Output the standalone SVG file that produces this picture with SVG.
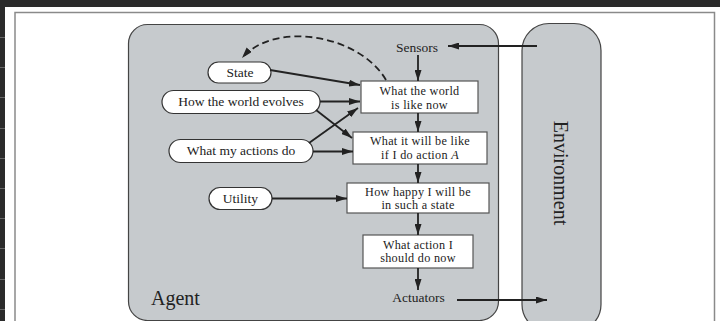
<svg xmlns="http://www.w3.org/2000/svg" width="720" height="321" viewBox="0 0 720 321">
<style>
.t{font-family:"Liberation Serif","Times New Roman",serif;font-size:13.5px;fill:#222;text-anchor:middle}
.b{font-size:12.2px;letter-spacing:0.3px}
.big{font-family:"Liberation Serif","Times New Roman",serif;font-size:20px;fill:#222}
.pill{fill:#fff;stroke:#333;stroke-width:1.2}
.box{fill:#fff;stroke:#555;stroke-width:1.2}
.c{fill:none;stroke:#222;stroke-width:1.8}
.tick{stroke:#666;stroke-width:1}
</style>
<defs>
<marker id="ah" viewBox="0 0 11 7" refX="11" refY="3.5" markerWidth="11" markerHeight="7" markerUnits="userSpaceOnUse" orient="auto">
<path d="M0,0 L11,3.5 L0,7 z" fill="#222"/>
</marker>
</defs>
<g id="background">
<rect x="0" y="0" width="720" height="321" fill="#fff"/>
<rect x="0" y="0" width="720" height="7" fill="#2b2b2b"/>
<rect x="0" y="0" width="5" height="321" fill="#2b2b2b"/>
<line class="tick" x1="0" y1="37.5" x2="5" y2="37.5"/>
<line class="tick" x1="0" y1="67.5" x2="5" y2="67.5"/>
<line class="tick" x1="0" y1="97.5" x2="5" y2="97.5"/>
<line class="tick" x1="0" y1="128.5" x2="5" y2="128.5"/>
<line class="tick" x1="0" y1="158.5" x2="5" y2="158.5"/>
<line class="tick" x1="0" y1="188.5" x2="5" y2="188.5"/>
<line class="tick" x1="0" y1="218.5" x2="5" y2="218.5"/>
<line class="tick" x1="0" y1="248.5" x2="5" y2="248.5"/>
<line class="tick" x1="0" y1="279.5" x2="5" y2="279.5"/>
<line class="tick" x1="0" y1="309.5" x2="5" y2="309.5"/>
<path d="M15,330 V12.5 H714.5 V330" fill="none" stroke="#8a8a8a" stroke-width="1.5"/>
</g>
<g id="agent">
<rect x="128.5" y="24.5" width="370" height="296" rx="19" fill="#c6cacd" stroke="#444" stroke-width="1.2"/>
<text class="big" x="151" y="305">Agent</text>
</g>
<g id="environment">
<rect x="522" y="23.5" width="79" height="308" rx="27" fill="#c6cacd" stroke="#444" stroke-width="1.2"/>
<text class="big" x="0" y="0" text-anchor="middle" transform="translate(554,173) rotate(90)" font-size="21">Environment</text>
</g>
<g id="sensors"><text class="t" x="417" y="52">Sensors</text></g>
<g id="actuators"><text class="t" x="418.5" y="302">Actuators</text></g>
<g id="state">
<rect class="pill" x="208" y="62" width="63" height="21" rx="10.5"/>
<text class="t" x="240" y="77">State</text>
</g>
<g id="how-world-evolves">
<rect class="pill" x="162" y="90.5" width="158" height="23" rx="11.5"/>
<text class="t" x="241" y="106">How the world evolves</text>
</g>
<g id="what-my-actions-do">
<rect class="pill" x="169" y="139.5" width="144" height="23" rx="11.5"/>
<text class="t" x="241" y="155">What my actions do</text>
</g>
<g id="utility">
<rect class="pill" x="209" y="187.5" width="63" height="22" rx="11"/>
<text class="t" x="240.5" y="203">Utility</text>
</g>
<g id="world-now">
<rect class="box" x="361" y="81" width="117" height="32"/>
<text class="t b" x="419.5" y="95">What the world</text>
<text class="t b" x="419.5" y="108.6">is like now</text>
</g>
<g id="will-be-like">
<rect class="box" x="353" y="132" width="134" height="32"/>
<text class="t b" x="420" y="145">What it will be like</text>
<text class="t b" x="420" y="158.6">if I do action <tspan font-style="italic">A</tspan></text>
</g>
<g id="how-happy">
<rect class="box" x="347" y="183" width="142" height="30"/>
<text class="t b" x="418" y="195.5">How happy I will be</text>
<text class="t b" x="418" y="209.1">in such a state</text>
</g>
<g id="what-action">
<rect class="box" x="363" y="235" width="110" height="33"/>
<text class="t b" x="418" y="248.5">What action I</text>
<text class="t b" x="418" y="262.1">should do now</text>
</g>
<g id="connectors">
<line class="c" x1="537" y1="46" x2="448" y2="46" marker-end="url(#ah)"/>
<line class="c" x1="418" y1="55" x2="418" y2="81" marker-end="url(#ah)"/>
<line class="c" x1="418" y1="113" x2="418" y2="132" marker-end="url(#ah)"/>
<line class="c" x1="418" y1="164" x2="418" y2="183" marker-end="url(#ah)"/>
<line class="c" x1="418" y1="213" x2="418" y2="235" marker-end="url(#ah)"/>
<line class="c" x1="418" y1="268" x2="418" y2="290" marker-end="url(#ah)"/>
<line class="c" x1="457" y1="300" x2="547" y2="300" marker-end="url(#ah)"/>
<line class="c" x1="270" y1="70" x2="360" y2="85" marker-end="url(#ah)"/>
<line class="c" x1="320" y1="101.5" x2="360" y2="101.5" marker-end="url(#ah)"/>
<line class="c" x1="316" y1="110" x2="352" y2="138" marker-end="url(#ah)"/>
<line class="c" x1="309" y1="143" x2="358" y2="108" marker-end="url(#ah)"/>
<line class="c" x1="313" y1="151.5" x2="353" y2="151.5" marker-end="url(#ah)"/>
<line class="c" x1="272" y1="198.5" x2="347" y2="198.5" marker-end="url(#ah)"/>
<path class="c" d="M386,80 C360,35 275,20 242,58" stroke-dasharray="7,4" marker-end="url(#ah)"/>
</g>
</svg>
